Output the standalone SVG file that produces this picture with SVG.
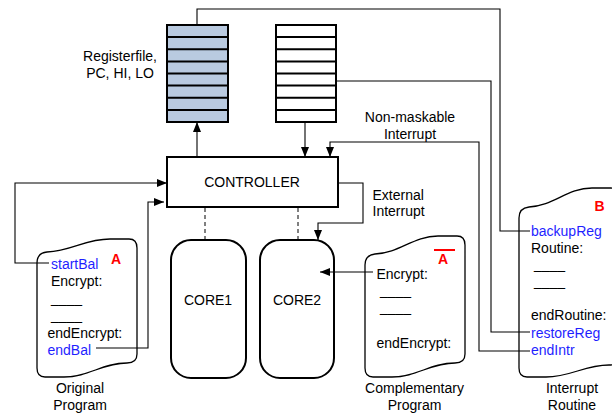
<svg xmlns="http://www.w3.org/2000/svg" width="612" height="414" viewBox="0 0 612 414">
  <style>
    text { font-family: "Liberation Sans", Arial, sans-serif; font-size: 14px; fill: #000; }
    .mid { text-anchor: middle; }
    .blue { fill: #1f1fff; }
    .red { fill: #ff0000; font-weight: bold; }
    .reg { stroke: #000; stroke-width: 2; }
    .box { fill: #fff; stroke: #000; stroke-width: 2; }
    .doc { fill: #fff; stroke: #000; stroke-width: 1.3; }
    .wire { fill: none; stroke: #000; stroke-width: 1.1; }
    .dash { fill: none; stroke: #000; stroke-width: 1; stroke-dasharray: 4 3; }
  </style>
  <defs>
    <marker id="arrow" markerUnits="userSpaceOnUse" markerWidth="10" markerHeight="8" refX="10" refY="4" orient="auto">
      <path d="M0,0 L10,4 L0,8 Z" fill="#000"/>
    </marker>
  </defs>

  <rect width="612" height="414" fill="#fff"/>

  <!-- register file (shaded) -->
  <g id="regfile">
    <rect x="167" y="25" width="61" height="97" fill="#b9cae0" class="reg"/>
    <path class="reg" d="M167,37.1H228M167,49.2H228M167,61.4H228M167,73.5H228M167,85.6H228M167,97.7H228M167,109.9H228"/>
    <text class="mid" x="120" y="61">Registerfile,</text>
    <text class="mid" x="120" y="78">PC, HI, LO</text>
  </g>

  <!-- backup registers -->
  <g id="backupregs">
    <rect x="276" y="25" width="60" height="97" fill="#fff" class="reg"/>
    <path class="reg" d="M276,37.1H336M276,49.2H336M276,61.4H336M276,73.5H336M276,85.6H336M276,97.7H336M276,109.9H336"/>
  </g>

  <g id="controller">
    <rect x="167" y="157" width="171" height="50" class="box"/>
    <text class="mid" x="252" y="187">CONTROLLER</text>
  </g>

  <g id="core1">
    <rect x="171" y="240" width="75" height="138" rx="20" class="box"/>
    <text class="mid" x="208" y="305">CORE1</text>
  </g>

  <g id="core2">
    <rect x="260" y="240" width="74" height="138" rx="20" class="box"/>
    <text class="mid" x="297" y="305">CORE2</text>
  </g>

  <!-- original program listing -->
  <g id="original">
    <path class="doc" d="M37,263 Q37,253 47,252 C72,251 85,239 110,239 L129,239 Q137,239 137,248 L137,354 Q137,363 127,363 C102,363 89,377 64,377 L45,377 Q37,377 37,368 Z"/>
    <text class="blue" x="51" y="269">startBal</text>
    <text class="red mid" x="116" y="264">A</text>
    <text x="51" y="286">Encrypt:</text>
    <text x="51" y="302.7">____</text>
    <text x="51" y="319.7">____</text>
    <text x="47.5" y="338">endEncrypt:</text>
    <text class="blue" x="47.5" y="355">endBal</text>
    <text class="mid" x="80" y="393">Original</text>
    <text class="mid" x="80" y="409.5">Program</text>
  </g>

  <!-- complementary program listing -->
  <g id="complementary">
    <path class="doc" d="M365,265 Q365,255 375,254 C400,253 413,236 438,236 L457,236 Q465,236 465,245 L465,354 Q465,363 455,363 C430,363 417,377 392,377 L373,377 Q365,377 365,368 Z"/>
    <text class="red mid" x="443" y="263.5">A</text>
    <line x1="434" y1="250" x2="455" y2="250" stroke="#ff0000" stroke-width="2"/>
    <text x="376.5" y="279">Encrypt:</text>
    <text x="380" y="294.5">____</text>
    <text x="380" y="311.5">____</text>
    <text x="376.5" y="347.5">endEncrypt:</text>
    <text class="mid" x="414.5" y="393">Complementary</text>
    <text class="mid" x="414.5" y="409.5">Program</text>
  </g>

  <!-- interrupt routine listing -->
  <g id="interrupt">
    <path class="doc" d="M519,218 Q519,208 529,207 C554,206 567,188 592,188 L611,188 Q619,188 619,197 L619,356 Q619,365 609,365 C584,365 571,377 546,377 L527,377 Q519,377 519,368 Z"/>
    <text class="red mid" x="599.5" y="211">B</text>
    <text class="blue" x="531" y="235.5">backupReg</text>
    <text x="531" y="252.5">Routine:</text>
    <text x="534" y="268.5">____</text>
    <text x="534" y="285.5">____</text>
    <text x="531" y="320">endRoutine:</text>
    <text class="blue" x="531" y="337.5">restoreReg</text>
    <text class="blue" x="531" y="355">endIntr</text>
    <text class="mid" x="572" y="393">Interrupt</text>
    <text class="mid" x="572" y="409.5">Routine</text>
  </g>

  <g id="connectors">
    <!-- register file to backupReg -->
    <path class="wire" d="M197,25 V9 H500 V231 H530"/>
    <!-- backup registers to restoreReg -->
    <path class="wire" d="M336,81 H491 V332 H530"/>
    <!-- endIntr: non-maskable interrupt -->
    <path class="wire" d="M530,351 H479 V142 H330 V157" marker-end="url(#arrow)"/>
    <text class="mid" x="410" y="122">Non-maskable</text>
    <text class="mid" x="410" y="139">Interrupt</text>
    <!-- backup registers to controller -->
    <path class="wire" d="M305,122 V157" marker-end="url(#arrow)"/>
    <!-- controller to register file -->
    <path class="wire" d="M197,157 V122" marker-end="url(#arrow)"/>
    <!-- external interrupt to CORE2 -->
    <path class="wire" d="M338,183 H363 V223 H318 V240" marker-end="url(#arrow)"/>
    <text x="372.5" y="199.5">External</text>
    <text x="372.5" y="216">Interrupt</text>
    <!-- startBal / endBal to controller -->
    <path class="wire" d="M49,263 H15 V183 H167" marker-end="url(#arrow)"/>
    <path class="wire" d="M96,348 H148 V202 H164" marker-end="url(#arrow)"/>
    <!-- complementary code into CORE2 -->
    <path class="wire" d="M373,272 H320" marker-end="url(#arrow)"/>
    <!-- controller to cores -->
    <path class="dash" d="M205,208 V240 M298,208 V240"/>
  </g>
</svg>
